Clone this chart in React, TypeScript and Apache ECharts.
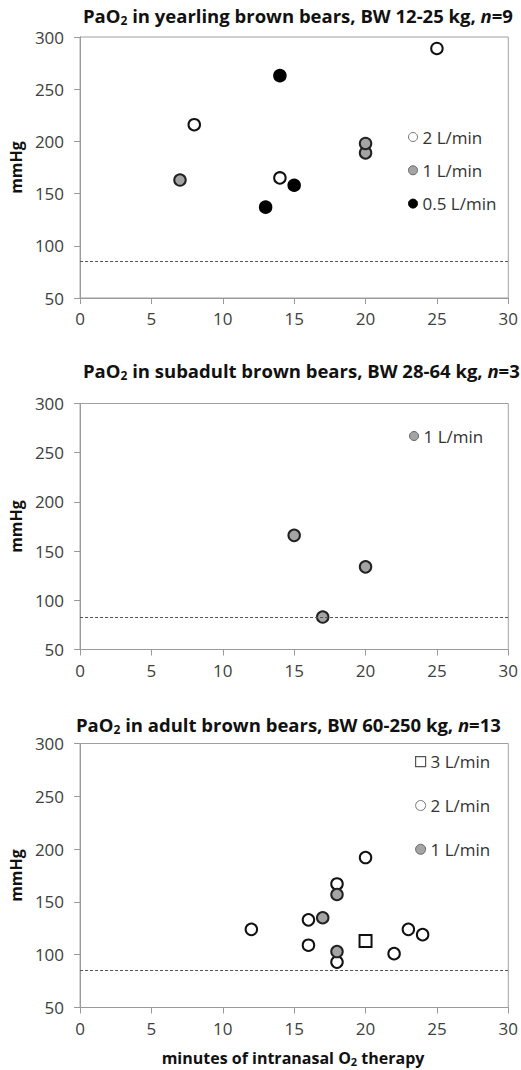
import React, { useEffect, useRef } from "react";
import * as echarts from "echarts";

// Axis scale
const xMin = 0, xMax = 30, xStep = 5;
const yMin = 50, yMax = 300, yStep = 50;

// Panel 1: yearlings
const yearlingTitle = ["PaO", "2", " in yearling brown bears, BW 12-25 kg, ", "n", "=9"];
const yearling2L = [[8, 216], [14, 165], [25, 289]];
const yearling1L = [[7, 163], [20, 189], [20, 198]];
const yearling05L = [[14, 263], [13, 137], [15, 158]];
const yearlingRef = 85;

// Panel 2: subadults
const subadultTitle = ["PaO", "2", " in subadult brown bears, BW 28-64 kg, ", "n", "=3"];
const subadult1L = [[15, 166], [20, 134], [17, 83]];
const subadultRef = 83;

// Panel 3: adults
const adultTitle = ["PaO", "2", " in adult brown bears, BW 60-250 kg, ", "n", "=13"];
const adult3L = [[20, 113]];
const adult2L = [[12, 124], [16, 133], [16, 109], [18, 167], [18, 93], [20, 192], [22, 101], [23, 124], [24, 119]];
const adult1L = [[17, 135], [18, 157], [18, 103]];
const adultRef = 85;

const yName = "mmHg";
const xNameParts = ["minutes of intranasal O", "2", " therapy"];
const flowNames = ["3 L/min", "2 L/min", "1 L/min", "0.5 L/min"];

const FONT = "Open Sans";

const richTitle = {
  b: { fontFamily: FONT, fontWeight: "bold", fontSize: 18.5, color: "#111", lineHeight: 22, verticalAlign: "middle" },
  s: { fontFamily: FONT, fontWeight: "bold", fontSize: 12, color: "#111", lineHeight: 13, verticalAlign: "bottom" },
  i: { fontFamily: FONT, fontWeight: "bold", fontStyle: "italic", fontSize: 18.5, color: "#111", lineHeight: 22, verticalAlign: "middle" },
};

function titleText(p: string[]) {
  return `{b|${p[0]}}{s|${p[1]}}{b|${p[2]}}{i|${p[3]}}{b|${p[4]}}`;
}

const openStyle = { color: "#ffffff", borderColor: "#111", borderWidth: 2, opacity: 1 };
const grayStyle = { color: "#a4a4a4", borderColor: "#222", borderWidth: 2, opacity: 1 };
const blackStyle = { color: "#000", borderColor: "#000", borderWidth: 2, opacity: 1 };

const legOpen = { color: "#fff", borderColor: "#777", borderWidth: 1, opacity: 1 };
const legGray = { color: "#a4a4a4", borderColor: "#666", borderWidth: 1, opacity: 1 };
const legBlack = { color: "#000", borderColor: "#000", borderWidth: 1, opacity: 1 };
const legSquare = { color: "#fff", borderColor: "#555", borderWidth: 1.2, opacity: 1 };

const grids = [
  { left: 75, top: 37, width: 435.5, height: 261 },
  { left: 78.5, top: 403.5, width: 430.5, height: 246 },
  { left: 75, top: 743.5, width: 435, height: 264 },
];

function makeXAxis(i: number) {
  return {
    type: "value",
    gridIndex: i,
    min: xMin,
    max: xMax,
    interval: xStep,
    axisLine: { show: true, onZero: false, lineStyle: { color: "#9a9a9a", width: 1 } },
    axisTick: { show: true, length: 6, lineStyle: { color: "#9a9a9a" } },
    splitLine: { show: false },
    axisLabel: { color: "#404040", fontFamily: FONT, fontSize: 17, margin: 12 },
  };
}

function makeYAxis(i: number) {
  return {
    type: "value",
    gridIndex: i,
    min: yMin,
    max: yMax,
    interval: yStep,
    name: yName,
    nameLocation: "middle",
    nameRotate: 90,
    nameGap: 46,
    nameTextStyle: { fontFamily: FONT, fontWeight: "bold", fontSize: 16, color: "#111" },
    axisLine: { show: true, onZero: false, lineStyle: { color: "#9a9a9a", width: 1 } },
    axisTick: { show: true, length: 6, lineStyle: { color: "#9a9a9a" } },
    splitLine: { show: false },
    axisLabel: { color: "#404040", fontFamily: FONT, fontSize: 17, margin: 16 },
  };
}

function refLine(v: number) {
  return {
    silent: true,
    symbol: "none",
    label: { show: false },
    lineStyle: { type: [3, 2], color: "#555", width: 1 },
    data: [{ yAxis: v }],
  };
}

function scatter(name: string, data: number[][], idx: number, style: any, symbol = "circle", size = 11.5, ref?: number) {
  const s: any = {
    type: "scatter",
    name,
    xAxisIndex: idx,
    yAxisIndex: idx,
    data,
    symbol,
    symbolSize: size,
    itemStyle: style,
    emphasis: { disabled: true },
  };
  if (ref !== undefined) s.markLine = refLine(ref);
  return s;
}

const legendText = { fontFamily: FONT, fontSize: 17, color: "#333", lineHeight: 18 };

export default function App() {
  const ref = useRef<HTMLDivElement>(null);
  useEffect(() => {
    if (!ref.current) return;
    const chart = echarts.init(ref.current, undefined, { renderer: "svg" });
    const option: any = {
      animation: false,
      backgroundColor: "#fff",
      title: [
        { text: titleText(yearlingTitle), left: 83, top: 4, padding: 0, textStyle: { rich: richTitle } },
        { text: titleText(subadultTitle), left: 83, top: 359, padding: 0, textStyle: { rich: richTitle } },
        { text: titleText(adultTitle), left: 76, top: 713, padding: 0, textStyle: { rich: richTitle } },
        {
          text: `{b|${xNameParts[0]}}{s|${xNameParts[1]}}{b|${xNameParts[2]}}`,
          left: 293,
          top: 1048,
          textAlign: "center",
          padding: 0,
          textStyle: {
            rich: {
              b: { ...richTitle.b, fontSize: 16, lineHeight: 19 },
              s: { ...richTitle.s, fontSize: 11, lineHeight: 12 },
            },
          },
        },
      ],
      grid: grids.map((g) => ({ ...g, show: true, borderColor: "#a0a0a0", borderWidth: 1, backgroundColor: "transparent" })),
      xAxis: [0, 1, 2].map(makeXAxis),
      yAxis: [0, 1, 2].map(makeYAxis),
      legend: [
        {
          left: 403,
          top: 123,
          orient: "vertical",
          itemWidth: 9,
          itemHeight: 9,
          itemGap: 15.3,
          selectedMode: false,
          textStyle: legendText,
          data: [
            { name: flowNames[1], icon: "circle", itemStyle: legOpen },
            { name: flowNames[2], icon: "circle", itemStyle: legGray },
            { name: flowNames[3], icon: "circle", itemStyle: legBlack },
          ],
        },
        {
          left: 404,
          top: 422,
          orient: "vertical",
          itemWidth: 9,
          itemHeight: 9,
          selectedMode: false,
          textStyle: legendText,
          data: [{ name: flowNames[2], icon: "circle", itemStyle: legGray }],
        },
        {
          left: 410,
          top: 747.7,
          orient: "vertical",
          itemWidth: 10,
          itemHeight: 10,
          itemGap: 25.8,
          selectedMode: false,
          textStyle: legendText,
          data: [
            { name: flowNames[0], icon: "rect", itemStyle: legSquare },
            { name: flowNames[1], icon: "circle", itemStyle: legOpen },
            { name: flowNames[2], icon: "circle", itemStyle: legGray },
          ],
        },
      ],
      series: [
        scatter(flowNames[1], yearling2L, 0, openStyle, "circle", 11.5, yearlingRef),
        scatter(flowNames[2], yearling1L, 0, grayStyle),
        scatter(flowNames[3], yearling05L, 0, blackStyle),
        scatter(flowNames[2], subadult1L, 1, grayStyle, "circle", 11.5, subadultRef),
        scatter(flowNames[0], adult3L, 2, openStyle, "rect", 12, adultRef),
        scatter(flowNames[1], adult2L, 2, openStyle),
        scatter(flowNames[2], adult1L, 2, grayStyle),
      ],
    };
    chart.setOption(option);
    return () => chart.dispose();
  }, []);
  return <div ref={ref} style={{ position: "absolute", left: 0, top: 0, width: 521, height: 1070 }} />;
}
